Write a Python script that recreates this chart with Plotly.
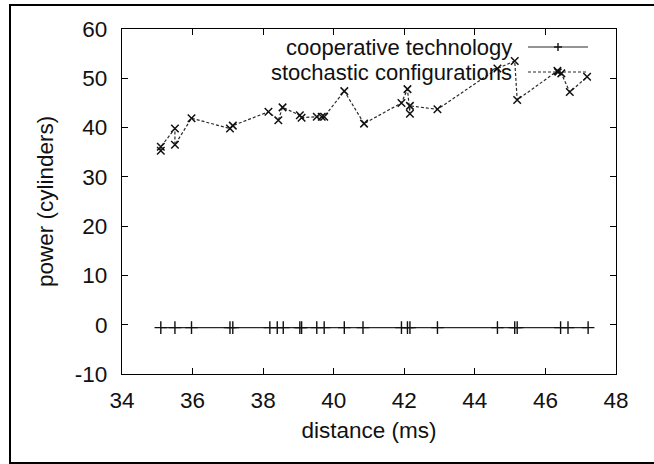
import plotly.graph_objects as go

# ---- data ----
coop_x = [35.10, 35.50, 35.97, 37.06, 37.14, 38.19, 38.40, 38.57, 39.04, 39.09,
          39.52, 39.73, 40.30, 40.83, 41.92, 42.09, 42.16, 42.94, 44.64, 45.13,
          45.20, 46.43, 46.64, 47.21]
coop_y = [-0.6, -0.6, -0.6, -0.6, -0.6, -0.6, -0.6, -0.6, -0.6, -0.6,
          -0.6, -0.6, -0.6, -0.6, -0.6, -0.6, -0.6, -0.6, -0.6, -0.6,
          -0.6, -0.6, -0.6, -0.6]

stoch_x = [35.10, 35.10, 35.50, 35.50, 35.97, 37.06, 37.14, 38.15, 38.43, 38.55,
           39.04, 39.09, 39.52, 39.66, 39.73, 40.30, 40.86, 41.92, 42.09, 42.16,
           42.16, 42.94, 44.64, 45.13, 45.20, 46.34, 46.45, 46.69, 47.18]
stoch_y = [35.3, 36.1, 39.8, 36.5, 41.9, 39.8, 40.4, 43.2, 41.5, 44.1,
           42.5, 42.0, 42.2, 42.2, 42.2, 47.4, 40.8, 45.0, 47.8, 42.8,
           44.4, 43.7, 52.0, 53.5, 45.6, 51.5, 51.0, 47.2, 50.3]

series_names = ["cooperative technology", "stochastic configurations"]
x_ticks = [34, 36, 38, 40, 42, 44, 46, 48]
y_ticks = [-10, 0, 10, 20, 30, 40, 50, 60]
x_title = "distance (ms)"
y_title = "power (cylinders)"

# ---- layout geometry (pixels) ----
W, H = 654, 464
L, R, T, B = 122, 616, 29, 374
FONT = "Liberation Sans, Arial, Helvetica, sans-serif"
FS = 22.5
LEG_FS = 22
INK = "#2a2a2a"


def px(xp):
    return (xp - L) / (R - L)


def py(yp):
    return (B - yp) / (B - T)


fig = go.Figure()
fig.add_trace(go.Scatter(
    x=coop_x, y=coop_y, mode="lines+markers", name=series_names[0],
    line=dict(color=INK, width=1.2),
    marker=dict(symbol="cross-thin", size=9, line=dict(color="#111", width=1.4)),
    showlegend=False))
fig.add_trace(go.Scatter(
    x=stoch_x, y=stoch_y, mode="lines+markers", name=series_names[1],
    line=dict(color=INK, width=1.2, dash="3px,2px"),
    marker=dict(symbol="x-thin", size=7.5, line=dict(color="#111", width=1.5)),
    showlegend=False))

shapes = []
annotations = []
# outer frame
shapes.append(dict(type="rect", xref="paper", yref="paper",
                   x0=px(10), x1=px(662), y0=py(463), y1=py(5),
                   line=dict(color="black", width=2)))
# y axis title
annotations.append(dict(xref="paper", yref="paper", x=px(46), y=py(202),
                        text=y_title, textangle=-90, showarrow=False,
                        xanchor="center", yanchor="middle",
                        font=dict(family=FONT, size=FS, color="#111")))
# legend (gnuplot style: text right aligned, sample on right)
rows = [47, 72]
for i, (name, yr) in enumerate(zip(series_names, rows)):
    annotations.append(dict(xref="paper", yref="paper", x=px(513), y=py(yr),
                            text=name, showarrow=False, xanchor="right",
                            yanchor="middle", borderpad=0,
                            font=dict(family=FONT, size=LEG_FS, color="#111")))
    shapes.append(dict(type="line", xref="paper", yref="paper",
                       x0=px(528), x1=px(588), y0=py(yr), y1=py(yr),
                       line=dict(color=INK, width=1.2,
                                 dash="solid" if i == 0 else "3px,2px")))
mx = 558
r = 4
shapes.append(dict(type="line", xref="paper", yref="paper",
                   x0=px(mx - r), x1=px(mx + r), y0=py(rows[0]), y1=py(rows[0]),
                   line=dict(color="#111", width=1.4)))
shapes.append(dict(type="line", xref="paper", yref="paper",
                   x0=px(mx), x1=px(mx), y0=py(rows[0] - r), y1=py(rows[0] + r),
                   line=dict(color="#111", width=1.4)))
r2 = 3.4
shapes.append(dict(type="line", xref="paper", yref="paper",
                   x0=px(mx - r2), x1=px(mx + r2), y0=py(rows[1] - r2), y1=py(rows[1] + r2),
                   line=dict(color="#111", width=1.5)))
shapes.append(dict(type="line", xref="paper", yref="paper",
                   x0=px(mx - r2), x1=px(mx + r2), y0=py(rows[1] + r2), y1=py(rows[1] - r2),
                   line=dict(color="#111", width=1.5)))

axis_common = dict(showgrid=False, zeroline=False, showline=True,
                   linecolor="black", linewidth=1.2, mirror="allticks",
                   ticks="inside", ticklen=6, tickwidth=1.2, tickcolor="black",
                   tickfont=dict(family=FONT, size=FS, color="#111"))

fig.update_layout(
    width=W, height=H,
    margin=dict(l=L, r=W - R, t=T, b=H - B, autoexpand=False),
    paper_bgcolor="white", plot_bgcolor="white",
    shapes=shapes, annotations=annotations,
    xaxis=dict(range=[34, 48], tickvals=x_ticks,
               ticktext=[str(v) for v in x_ticks],
               title=dict(text=x_title, standoff=10,
                          font=dict(family=FONT, size=FS, color="#111")),
               ticklabelstandoff=6,
               **axis_common),
    yaxis=dict(range=[-10, 60], tickvals=y_ticks,
               ticktext=[str(v) for v in y_ticks],
               ticklabelstandoff=9,
               **axis_common),
    showlegend=False,
)

fig.write_html("out.html")
